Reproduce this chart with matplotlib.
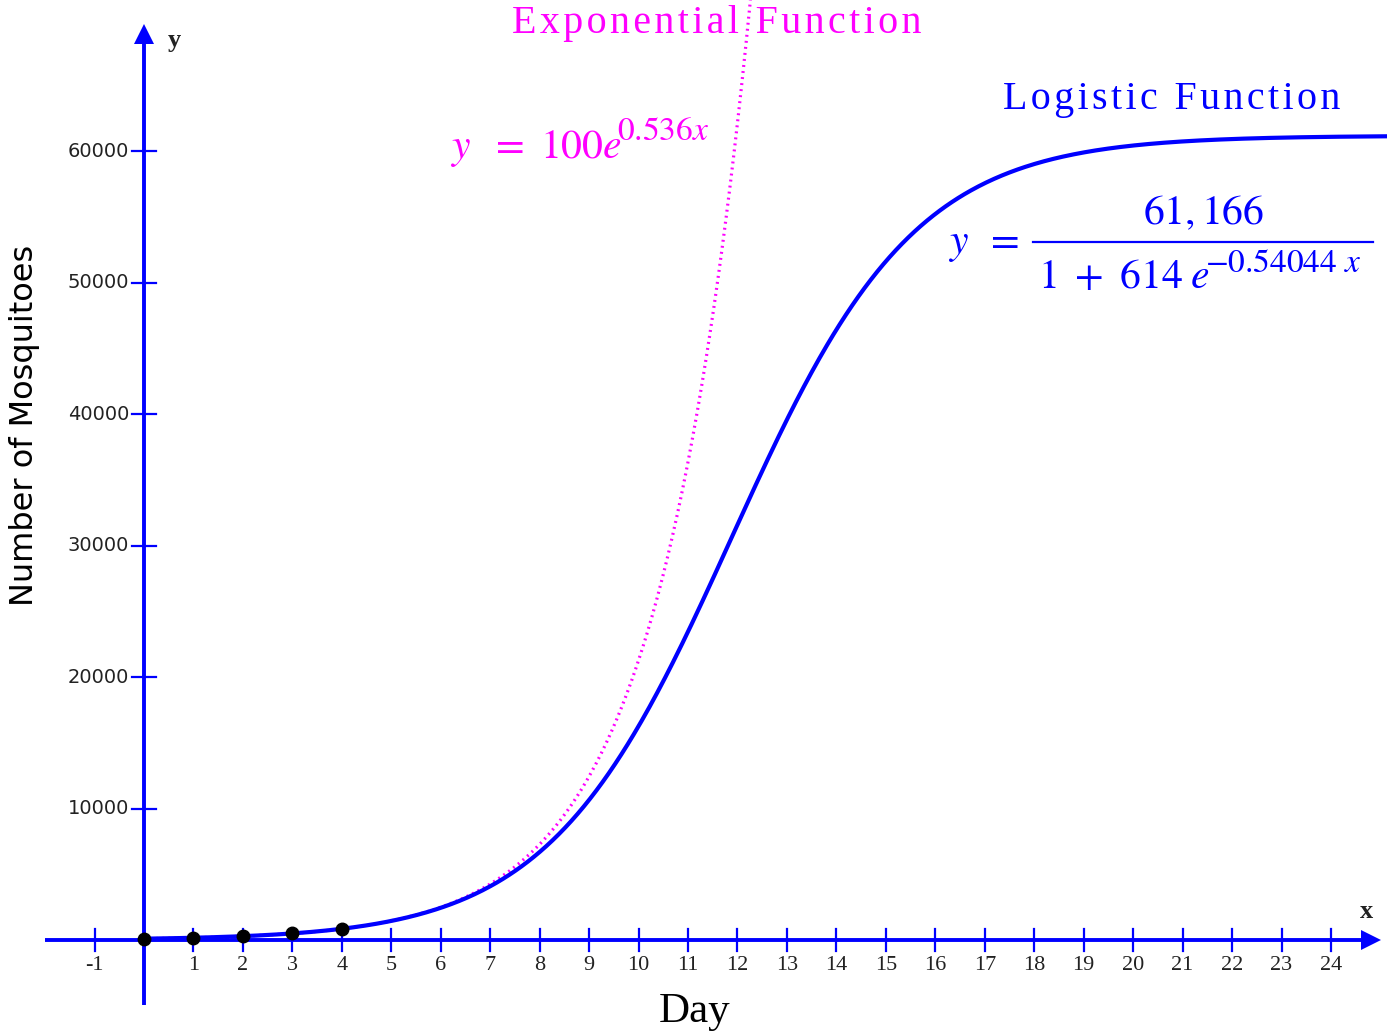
import numpy as np
import matplotlib
matplotlib.use("Agg")
import matplotlib.pyplot as plt
from matplotlib.lines import Line2D

plt.rcParams["mathtext.fontset"] = "stix"

# Observed mosquito counts for the first days
days = [0, 1, 2, 3, 4]
counts = [100, 170, 290, 500, 850]

# Model parameters
exp_a, exp_b = 100, 0.536
log_K, log_A, log_r = 61166, 614, 0.54044

x_ticks = list(range(-1, 25))
y_ticks = [10000, 20000, 30000, 40000, 50000, 60000]

BLUE = "#0000FF"
MAGENTA = "#FF00FF"
HAIR = "\u200a"

W, H = 1387, 1032
fig = plt.figure(figsize=(W / 100, H / 100), dpi=100)
ax = fig.add_axes([0, 0, 1, 1])
ax.set_xlim(-2.912, 25.133)
ax.set_ylim(-6996, 71483)
ax.axis("off")


def fx(px):
    return px / W


def fy(py):
    return 1 - py / H


def spaced(s):
    return HAIR.join(s)


# Coordinate axes with arrowheads
ax.plot([-2.0, 24.9], [0, 0], color=BLUE, lw=2.8, solid_capstyle="butt", zorder=2)
ax.plot([0, 0], [-4950, 69000], color=BLUE, lw=2.8, solid_capstyle="butt", zorder=2)
ax.plot([24.8], [0], marker=">", color=BLUE, markersize=14, markeredgewidth=0, zorder=2)
ax.plot([0], [68900], marker="^", color=BLUE, markersize=14, markeredgewidth=0, zorder=2)

# Tick marks
tick_dx = 12 / 49.46
tick_dy = 11 / 0.01315
for t in x_ticks:
    if t == 0:
        continue
    ax.plot([t, t], [-tick_dy, tick_dy], color=BLUE, lw=1.6, zorder=2)
    ax.text(t, -1250, str(t), ha="center", va="top", fontsize=16,
            family="Liberation Serif", color="#222222")
for t in y_ticks:
    ax.plot([-tick_dx, tick_dx], [t, t], color=BLUE, lw=1.6, zorder=2)
    ax.text(-0.30, t, str(t), ha="right", va="center", fontsize=14,
            family="DejaVu Sans", color="#222222")

# Exponential model (dotted) and logistic model (solid)
xe = np.linspace(0, np.log(71483 / exp_a) / exp_b, 600)
ax.plot(xe, exp_a * np.exp(exp_b * xe), color=MAGENTA, lw=2.3,
        linestyle=(0, (0.6, 1.3)), zorder=3)
xl = np.linspace(0, 25.2, 800)
ax.plot(xl, log_K / (1 + log_A * np.exp(-log_r * xl)), color=BLUE, lw=3.0, zorder=4)

# Observed points
ax.plot(days, counts, "o", color="black", markersize=9, zorder=5)

# Axis names
fig.text(fx(1367), fy(912), "x", fontsize=19, fontweight="bold",
         family="Liberation Serif", ha="center", va="center", color="#222222")
fig.text(fx(174), fy(40), "y", fontsize=19, fontweight="bold",
         family="Liberation Serif", ha="center", va="center", color="#222222")
fig.text(fx(695), fy(1012), "Day", fontsize=31, family="Liberation Serif",
         ha="center", va="center", color="black")
fig.text(fx(25), fy(425), "Number of Mosquitoes", fontsize=23, family="DejaVu Sans",
         rotation=90, ha="center", va="center", color="black")

# Model captions
fig.text(fx(717), fy(23), spaced("Exponential Function"), fontsize=28.8,
         family="Liberation Serif", ha="center", va="center", color=MAGENTA)
fig.text(fx(1172), fy(99), spaced("Logistic Function"), fontsize=28.8,
         family="Liberation Serif", ha="center", va="center", color=BLUE)

# y = 100 e^{0.536x}
fig.text(fx(450), fy(148), r"$y\ \ =\ 100e$", fontsize=30,
         ha="left", va="center", color=MAGENTA)
fig.text(fx(617), fy(131), r"$0.536x$", fontsize=24,
         ha="left", va="center", color=MAGENTA)

# y = 61,166 / (1 + 614 e^{-0.54044 x})
fig.text(fx(948), fy(243), r"$y\;\;=$", fontsize=30, ha="left", va="center", color=BLUE)
fig.text(fx(1204), fy(212), r"$61,166$", fontsize=30, ha="center", va="center", color=BLUE)
fig.add_artist(Line2D([fx(1033), fx(1373)], [fy(242), fy(242)], color=BLUE, lw=1.6))
fig.text(fx(1038), fy(276), r"$1\ +\ 614\;e$", fontsize=30,
         ha="left", va="center", color=BLUE)
fig.text(fx(1205), fy(262), r"$-0.54044\ x$", fontsize=24,
         ha="left", va="center", color=BLUE)

fig.savefig("out.png", dpi=100)
